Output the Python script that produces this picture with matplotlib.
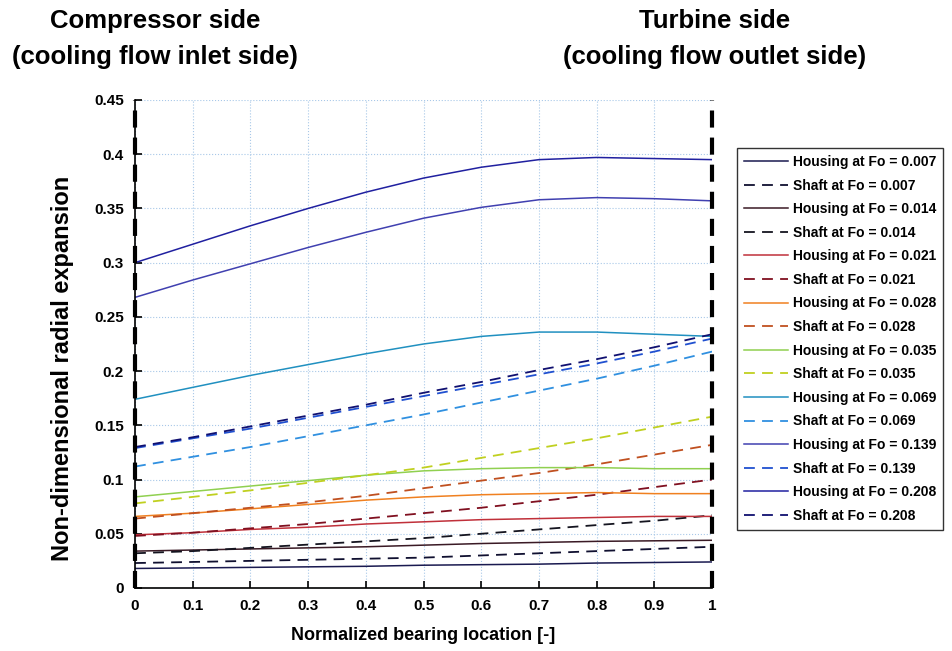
import numpy as np
import matplotlib.pyplot as plt

plt.rcParams['font.family'] = ['Liberation Sans', 'DejaVu Sans']

# data
x = [0.0, 0.1, 0.2, 0.3, 0.4, 0.5, 0.6, 0.7, 0.8, 0.9, 1.0]
fo_labels = ['0.007', '0.014', '0.021', '0.028', '0.035', '0.069', '0.139', '0.208']

housing_007 = [0.018, 0.0185, 0.019, 0.0195, 0.020, 0.021, 0.0215, 0.022, 0.023, 0.0235, 0.024]
shaft_007 = [0.023, 0.024, 0.025, 0.026, 0.027, 0.028, 0.030, 0.032, 0.034, 0.036, 0.038]
housing_014 = [0.034, 0.035, 0.036, 0.037, 0.038, 0.0395, 0.041, 0.042, 0.043, 0.0435, 0.044]
shaft_014 = [0.032, 0.034, 0.037, 0.040, 0.043, 0.046, 0.050, 0.054, 0.058, 0.062, 0.067]
housing_021 = [0.049, 0.051, 0.054, 0.056, 0.059, 0.061, 0.063, 0.064, 0.065, 0.066, 0.066]
shaft_021 = [0.048, 0.051, 0.055, 0.059, 0.064, 0.069, 0.074, 0.080, 0.086, 0.093, 0.100]
housing_028 = [0.066, 0.069, 0.073, 0.077, 0.081, 0.084, 0.086, 0.087, 0.088, 0.087, 0.087]
shaft_028 = [0.064, 0.069, 0.074, 0.079, 0.085, 0.092, 0.099, 0.106, 0.114, 0.123, 0.132]
housing_035 = [0.084, 0.089, 0.094, 0.099, 0.104, 0.108, 0.110, 0.111, 0.111, 0.110, 0.110]
shaft_035 = [0.078, 0.084, 0.090, 0.097, 0.104, 0.111, 0.120, 0.129, 0.138, 0.148, 0.158]
housing_069 = [0.174, 0.185, 0.196, 0.206, 0.216, 0.225, 0.232, 0.236, 0.236, 0.234, 0.232]
shaft_069 = [0.112, 0.121, 0.130, 0.140, 0.150, 0.160, 0.171, 0.182, 0.193, 0.205, 0.218]
housing_139 = [0.268, 0.284, 0.299, 0.314, 0.328, 0.341, 0.351, 0.358, 0.360, 0.359, 0.357]
shaft_139 = [0.129, 0.138, 0.147, 0.157, 0.167, 0.177, 0.187, 0.197, 0.207, 0.218, 0.230]
housing_208 = [0.300, 0.317, 0.334, 0.350, 0.365, 0.378, 0.388, 0.395, 0.397, 0.396, 0.395]
shaft_208 = [0.130, 0.139, 0.149, 0.159, 0.169, 0.180, 0.190, 0.201, 0.211, 0.222, 0.234]

housing = [housing_007, housing_014, housing_021, housing_028,
           housing_035, housing_069, housing_139, housing_208]
shaft = [shaft_007, shaft_014, shaft_021, shaft_028,
         shaft_035, shaft_069, shaft_139, shaft_208]

housing_colors = ['#1a1a50', '#3a1a25', '#c0303a', '#f08020',
                  '#90d050', '#2090c0', '#4040b0', '#2020a0']
shaft_colors = ['#101030', '#151520', '#801020', '#c05020',
                '#c0d020', '#3090e0', '#2050d0', '#101070']

fig = plt.figure(figsize=(9.53, 6.51), dpi=100)
ax = fig.add_axes([0.1417, 0.0968, 0.6055, 0.7496])

for i in range(len(fo_labels)):
    ax.plot(x, housing[i], color=housing_colors[i], lw=1.1,
            label='Housing at Fo = ' + fo_labels[i])
    ax.plot(x, shaft[i], color=shaft_colors[i], lw=1.3, ls=(0, (6, 4)),
            label='Shaft at Fo = ' + fo_labels[i])

# thick dashed lines at bearing ends
ax.axvline(0, color='black', lw=3, ls=(0, (4.1, 2.4)), zorder=5, clip_on=False)
ax.axvline(1, color='black', lw=3, ls=(0, (4.1, 2.4)), zorder=5, clip_on=False)

ax.set_xlim(0, 1)
ax.set_ylim(0, 0.45)
ax.set_xticks(np.arange(0, 1.01, 0.1))
ax.set_xticklabels(['0', '0.1', '0.2', '0.3', '0.4', '0.5', '0.6', '0.7', '0.8', '0.9', '1'])
ax.set_yticks(np.arange(0, 0.451, 0.05))
ax.set_yticklabels(['0', '0.05', '0.1', '0.15', '0.2', '0.25', '0.3', '0.35', '0.4', '0.45'])
ax.tick_params(direction='in', length=5, labelsize=11, width=1.2, pad=8)
for lab in ax.get_xticklabels() + ax.get_yticklabels():
    lab.set_fontweight('bold')
ax.grid(True, ls=':', color='#a8c8e8', lw=0.8)
ax.spines['top'].set_visible(False)
ax.spines['right'].set_visible(False)
ax.spines['left'].set_linewidth(1.2)
ax.spines['bottom'].set_linewidth(1.2)

ax.set_xlabel('Normalized bearing location [-]', fontsize=13, fontweight='bold', labelpad=10)
ax.set_ylabel('Non-dimensional radial expansion', fontsize=17, fontweight='bold')
ax.yaxis.set_label_coords(-0.106, 0.451)

fig.text(155 / 953, 1 - 39 / 651, 'Compressor side\n(cooling flow inlet side)',
         ha='center', va='center', fontsize=18.5, fontweight='bold', linespacing=1.6)
fig.text(715 / 953, 1 - 39 / 651, 'Turbine side\n(cooling flow outlet side)',
         ha='center', va='center', fontsize=18.5, fontweight='bold', linespacing=1.6)

leg = ax.legend(loc='upper left', bbox_to_anchor=(737 / 953, 1 - 148 / 651),
                bbox_transform=fig.transFigure, fontsize=10, frameon=True,
                fancybox=False, edgecolor='black', handlelength=3.2,
                labelspacing=0.69, borderpad=0.5, handletextpad=0.3,
                borderaxespad=0)
leg.get_frame().set_linewidth(1.0)
for t in leg.get_texts():
    t.set_fontweight('bold')

fig.savefig('out.png', dpi=100)
